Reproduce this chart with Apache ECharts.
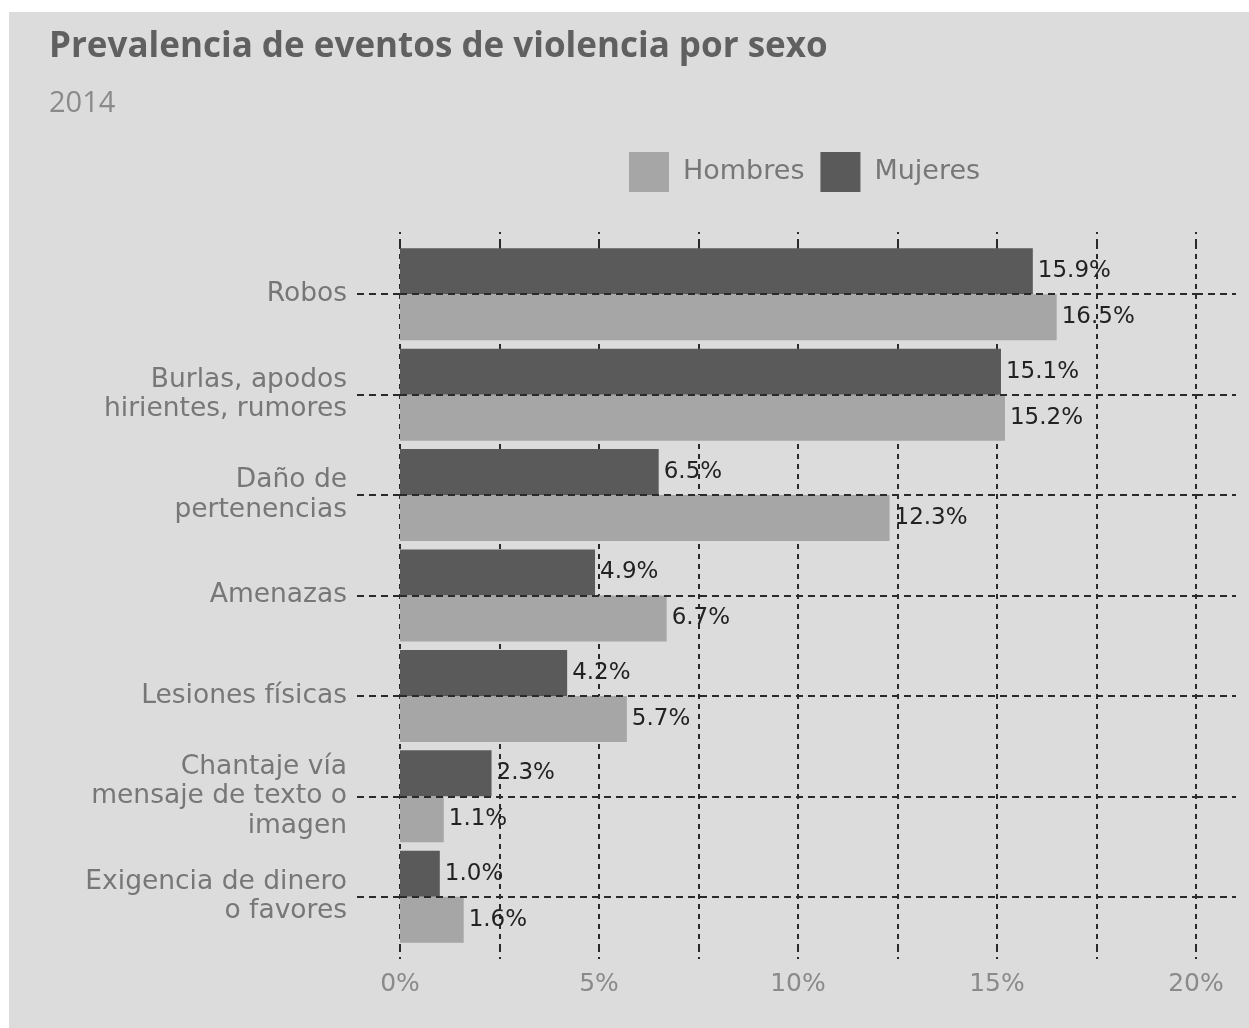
<!DOCTYPE html>
<html>
<head>
<meta charset="utf-8">
<script src="https://cdn.jsdelivr.net/npm/echarts@6/dist/echarts.min.js"></script>
<style>
html,body{margin:0;padding:0;background:#ffffff;width:1249px;height:1028px;overflow:hidden;}
#chart{position:absolute;left:9px;top:12px;width:1240px;height:1016px;}
</style>
</head>
<body>
<div id="chart"></div>
<script>
var categories = [
  "Robos",
  "Burlas, apodos\nhirientes, rumores",
  "Daño de\npertenencias",
  "Amenazas",
  "Lesiones físicas",
  "Chantaje vía\nmensaje de texto o\nimagen",
  "Exigencia de dinero\no favores"
];
var mujeres = [15.9, 15.1, 6.5, 4.9, 4.2, 2.3, 1.0];
var hombres = [16.5, 15.2, 12.3, 6.7, 5.7, 1.1, 1.6];
var xTicks = [0, 5, 10, 15, 20];

var TFONT = "Open Sans";
var FONT = "DejaVu Sans";
var chart = echarts.init(document.getElementById('chart'), null, {renderer: 'canvas'});
var dash = {color: '#2a2a2a', width: 2, type: [5, 5]};
var hdash = {color: '#2a2a2a', width: 2, type: [7, 5]};

chart.setOption({
  backgroundColor: '#dcdcdc',
  animation: false,
  textStyle: {fontFamily: FONT},
  title: [
    {text: 'Prevalencia de eventos de violencia por sexo', left: 35, top: 13,
     textStyle: {fontFamily: TFONT, fontWeight: 'bold', fontSize: 35, color: '#606060'}},
    {text: '2014', left: 35, top: 72,
     textStyle: {fontFamily: TFONT, fontWeight: 'normal', fontSize: 29, color: '#8a8a8a'}}
  ],
  legend: {
    data: ['Hombres', 'Mujeres'],
    left: 615, top: 135,
    itemWidth: 40, itemHeight: 40, itemGap: 16,
    icon: 'rect',
    textStyle: {fontFamily: FONT, fontSize: 27, color: '#777777', padding: [0, 0, 0, 9]}
  },
  grid: {left: 391, right: 53, top: 232, bottom: 81, containLabel: false},
  xAxis: [
    {
      type: 'value', min: 0, max: 20, interval: 2.5, position: 'bottom',
      axisLine: {show: false, onZero: false},
      axisTick: {show: true, length: 12, lineStyle: dash},
      splitLine: {show: true, lineStyle: dash},
      axisLabel: {
        fontFamily: FONT, fontSize: 25, color: '#8a8a8a', margin: 25,
        formatter: function (v) { return xTicks.indexOf(v) >= 0 ? v + '%' : ''; }
      }
    },
    {
      type: 'value', min: 0, max: 20, interval: 2.5, position: 'top',
      axisLine: {show: false, onZero: false},
      axisTick: {show: true, length: 12, lineStyle: dash},
      splitLine: {show: false},
      axisLabel: {show: false}
    }
  ],
  yAxis: [
    {
      type: 'category', data: categories, inverse: true, position: 'left',
      axisLine: {show: false, onZero: false},
      axisTick: {show: true, alignWithLabel: true, length: 45, lineStyle: hdash},
      splitLine: {show: false},
      axisLabel: {fontFamily: FONT, fontSize: 26.5, color: '#777777', margin: 53, lineHeight: 29.5,
        align: 'right', verticalAlign: 'middle', padding: [6, 0, 0, 0]}
    },
    {
      type: 'category', data: categories, inverse: true, position: 'right',
      axisLine: {show: false, onZero: false},
      axisTick: {show: true, interval: 0, alignWithLabel: true, length: 40, lineStyle: hdash},
      splitLine: {show: false},
      axisLabel: {show: true, interval: 0, formatter: function () { return ''; }}
    }
  ],
  series: [
    {
      name: 'Mujeres', type: 'bar', data: mujeres, xAxisIndex: 0, yAxisIndex: 0,
      barWidth: 46, barGap: '0%', z: 3,
      itemStyle: {color: '#5a5a5a'},
      label: {show: true, position: 'right', distance: 5, fontFamily: FONT, fontSize: 23, color: '#222222',
        formatter: function (p) { return p.value.toFixed(1) + '%'; }}
    },
    {
      name: 'Hombres', type: 'bar', data: hombres, xAxisIndex: 0, yAxisIndex: 0,
      barWidth: 46, barGap: '0%', z: 3,
      itemStyle: {color: '#a6a6a6'},
      label: {show: true, position: 'right', distance: 5, fontFamily: FONT, fontSize: 23, color: '#222222',
        formatter: function (p) { return p.value.toFixed(1) + '%'; }}
    },
    {
      name: 'grid', type: 'line', data: [], z: 1, xAxisIndex: 0, yAxisIndex: 1,
      markLine: {
        silent: true, symbol: 'none', label: {show: false},
        lineStyle: hdash,
        data: categories.map(function (c) { return {yAxis: c}; })
      }
    }
  ]
});
</script>
</body>
</html>
